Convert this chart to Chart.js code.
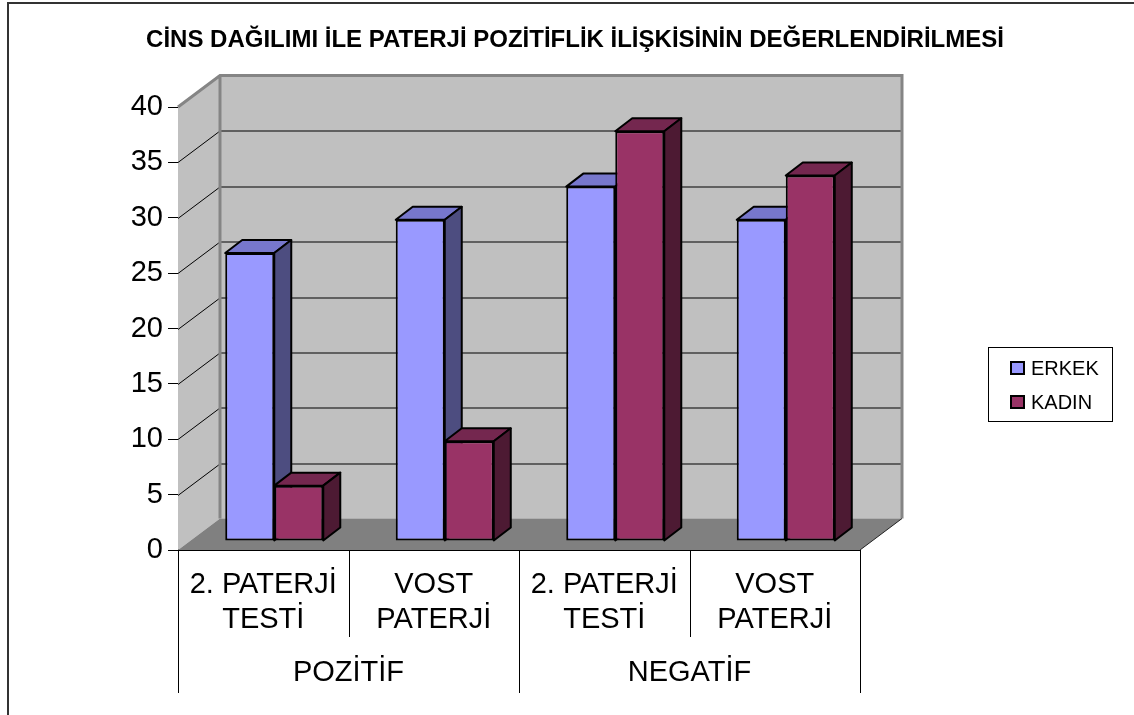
<!DOCTYPE html>
<html>
<head>
<meta charset="utf-8">
<script src="https://cdn.jsdelivr.net/npm/chart.js@4/dist/chart.umd.min.js"></script>
<style>
  html, body { margin: 0; padding: 0; background: #fff; }
  #wrap { width: 1134px; height: 715px; }
</style>
</head>
<body>
<div id="wrap"><canvas id="genderChart" width="1134" height="715"></canvas></div>
<script>
// Kategoriler ve seriler
const categories = [['2. PATERJİ', 'TESTİ'], ['VOST', 'PATERJİ'], ['2. PATERJİ', 'TESTİ'], ['VOST', 'PATERJİ']];
const groups = ['POZİTİF', 'NEGATİF'];
const seriesNames = ['ERKEK', 'KADIN'];
const erkekValues = [26, 29, 32, 29];
const kadinValues = [5, 9, 37, 33];
const yMin = 0, yMax = 40, yStep = 5;

const chartTitle = 'CİNS DAĞILIMI İLE PATERJİ POZİTİFLİK İLİŞKİSİNİN DEĞERLENDİRİLMESİ';

// 3D görünüm ayarları
const WALL_DX = 42, WALL_DY = -31.5;   // arka duvar derinliği
const BAR_DX = 11, BAR_DY = -9;        // çubuk ön yüz kayması
const BOX_DX = 17, BOX_DY = -13;       // çubuk derinliği

const colors = {
    erkek: { front: '#9999FF', top: '#7777CC', side: '#4D4D80' },
    kadin: { front: '#993366', top: '#74274F', side: '#4D1A33' }
};

function poly(ctx, pts, fill, stroke, lw) {
    ctx.beginPath();
    ctx.moveTo(pts[0][0], pts[0][1]);
    for (let i = 1; i < pts.length; i++) ctx.lineTo(pts[i][0], pts[i][1]);
    ctx.closePath();
    if (fill) { ctx.fillStyle = fill; ctx.fill(); }
    if (stroke) { ctx.strokeStyle = stroke; ctx.lineWidth = lw || 1; ctx.stroke(); }
}

// Çubuğun üst ve yan yüzleri
function drawBoxFaces(ctx, bar, c) {
    const L = bar.x - bar.width / 2 + BAR_DX;
    const R = bar.x + bar.width / 2 + BAR_DX;
    const T = bar.y + BAR_DY;
    const B = bar.base + BAR_DY;
    ctx.lineJoin = 'round';
    poly(ctx, [[L, T], [R, T], [R + BOX_DX, T + BOX_DY], [L + BOX_DX, T + BOX_DY]], c.top, '#000', 2);
    poly(ctx, [[R, T], [R + BOX_DX, T + BOX_DY], [R + BOX_DX, B + BOX_DY], [R, B]], c.side, '#000', 2);
}

const wallsPlugin = {
    id: 'walls3d',
    beforeDatasetsDraw(chart) {
        const ctx = chart.ctx;
        const a = chart.chartArea;
        const ys = chart.scales.y;
        const y0 = ys.getPixelForValue(yMin), y1 = ys.getPixelForValue(yMax);
        ctx.save();
        // yan duvar, arka duvar, zemin
        poly(ctx, [[a.left, y1], [a.left + WALL_DX, y1 + WALL_DY], [a.left + WALL_DX, y0 + WALL_DY], [a.left, y0]], '#C0C0C0');
        ctx.fillStyle = '#C0C0C0';
        ctx.fillRect(a.left + WALL_DX, y1 + WALL_DY, a.right - a.left, y0 - y1);
        poly(ctx, [[a.left, y0], [a.right, y0], [a.right + WALL_DX, y0 + WALL_DY], [a.left + WALL_DX, y0 + WALL_DY]], '#808080');
        // ızgara çizgileri
        ctx.strokeStyle = '#000';
        ctx.lineWidth = 1;
        for (let v = yMin + yStep; v < yMax; v += yStep) {
            const yy = Math.round(ys.getPixelForValue(v)) + 0.5;
            ctx.beginPath();
            ctx.moveTo(a.left, yy);
            ctx.lineTo(a.left + WALL_DX, yy + WALL_DY);
            ctx.lineTo(a.right + WALL_DX, yy + WALL_DY);
            ctx.stroke();
        }
        // duvar kenarları
        ctx.strokeStyle = '#858585';
        ctx.lineWidth = 3;
        ctx.beginPath();
        ctx.moveTo(a.left, y1);
        ctx.lineTo(a.left + WALL_DX, y1 + WALL_DY);
        ctx.lineTo(a.right + WALL_DX, y1 + WALL_DY);
        ctx.lineTo(a.right + WALL_DX, y0 + WALL_DY);
        ctx.moveTo(a.left + WALL_DX, y1 + WALL_DY);
        ctx.lineTo(a.left + WALL_DX, y0 + WALL_DY);
        ctx.stroke();
        ctx.strokeStyle = '#222';
        ctx.lineWidth = 1;
        ctx.beginPath();
        ctx.moveTo(a.right, y0);
        ctx.lineTo(a.right + WALL_DX, y0 + WALL_DY);
        ctx.stroke();
        ctx.restore();

        // ERKEK üst/yan yüzleri ön yüzlerin arkasında kalsın
        ctx.save();
        chart.getDatasetMeta(0).data.forEach(bar => drawBoxFaces(ctx, bar, colors.erkek));
        ctx.restore();

        ctx.save();
        ctx.translate(BAR_DX, BAR_DY);
    },
    afterDatasetsDraw(chart) {
        const ctx = chart.ctx;
        ctx.restore();
        ctx.save();
        chart.getDatasetMeta(1).data.forEach(bar => drawBoxFaces(ctx, bar, colors.kadin));
        ctx.restore();
    },
    afterDraw(chart) {
        const ctx = chart.ctx;
        const a = chart.chartArea;
        const xs = chart.scales.x;
        const step = (a.right - a.left) / categories.length;
        ctx.save();
        // kategori ayırıcıları
        ctx.strokeStyle = '#000';
        ctx.lineWidth = 1;
        for (let i = 0; i <= categories.length; i++) {
            const xx = Math.round(a.left + i * step) + 0.5;
            const len = (i % 2 === 0) ? 143 : 87;
            ctx.beginPath();
            ctx.moveTo(xx, a.bottom);
            ctx.lineTo(xx, a.bottom + len);
            ctx.stroke();
        }
        // grup etiketleri
        ctx.fillStyle = '#000';
        ctx.font = '29px "Liberation Sans", Arial, sans-serif';
        ctx.textAlign = 'center';
        ctx.textBaseline = 'middle';
        groups.forEach((g, i) => {
            const cx = (xs.getPixelForValue(i * 2) + xs.getPixelForValue(i * 2 + 1)) / 2;
            ctx.fillText(g, cx, a.bottom + 123);
        });
        // başlık
        ctx.font = 'bold 24px "Liberation Sans", Arial, sans-serif';
        ctx.fillText(chartTitle, 575, 40);
        // lejant
        ctx.strokeStyle = '#000';
        ctx.lineWidth = 1;
        ctx.strokeRect(988.5, 347.5, 124, 74);
        ctx.font = '20px "Liberation Sans", Arial, sans-serif';
        ctx.textAlign = 'left';
        const legendFill = [colors.erkek.front, colors.kadin.front];
        seriesNames.forEach((n, i) => {
            const cy = 368 + i * 34;
            ctx.fillStyle = legendFill[i];
            ctx.fillRect(1011, cy - 6, 13, 12);
            ctx.lineWidth = 2;
            ctx.strokeRect(1011, cy - 6, 13, 12);
            ctx.fillStyle = '#000';
            ctx.fillText(n, 1031, cy + 1);
        });
        // dış çerçeve
        ctx.strokeStyle = '#333';
        ctx.lineWidth = 2;
        ctx.beginPath();
        ctx.moveTo(8, 715);
        ctx.lineTo(8, 3);
        ctx.lineTo(1134, 3);
        ctx.stroke();
        ctx.restore();
    }
};

const chartData = {
    labels: categories,
    datasets: [
        {
            label: seriesNames[0],
            data: erkekValues,
            backgroundColor: colors.erkek.front,
            borderColor: '#000',
            borderWidth: 2,
            borderSkipped: false
        },
        {
            label: seriesNames[1],
            data: kadinValues,
            backgroundColor: colors.kadin.front,
            borderColor: '#000',
            borderWidth: 2,
            borderSkipped: false
        }
    ]
};

const chartConfig = {
    type: 'bar',
    data: chartData,
    options: {
        responsive: false,
        animation: false,
        layout: { padding: { top: 107, right: 274, left: 0, bottom: 0 } },
        datasets: { bar: { categoryPercentage: 0.575, barPercentage: 1.0, clip: false } },
        plugins: {
            legend: { display: false },
            title: { display: false },
            tooltip: { enabled: false }
        },
        scales: {
            x: {
                grid: { display: false },
                border: { display: true, color: '#000', width: 1 },
                ticks: {
                    color: '#000',
                    font: { family: '"Liberation Sans", Arial, sans-serif', size: 29 },
                    padding: 10,
                    maxRotation: 0,
                    autoSkip: false
                },
                afterFit(scale) { scale.height = 165; }
            },
            y: {
                min: yMin,
                max: yMax,
                ticks: {
                    stepSize: yStep,
                    color: '#000',
                    font: { family: '"Liberation Sans", Arial, sans-serif', size: 29 },
                    padding: 5
                },
                grid: { drawOnChartArea: false, drawTicks: true, tickLength: 10, color: '#000' },
                border: { display: true, color: '#000', width: 1 },
                afterFit(scale) { scale.width = 178; }
            }
        }
    },
    plugins: [wallsPlugin]
};

window.onload = function() {
    const ctx = document.getElementById('genderChart').getContext('2d');
    new Chart(ctx, chartConfig);
};
</script>
</body>
</html>
